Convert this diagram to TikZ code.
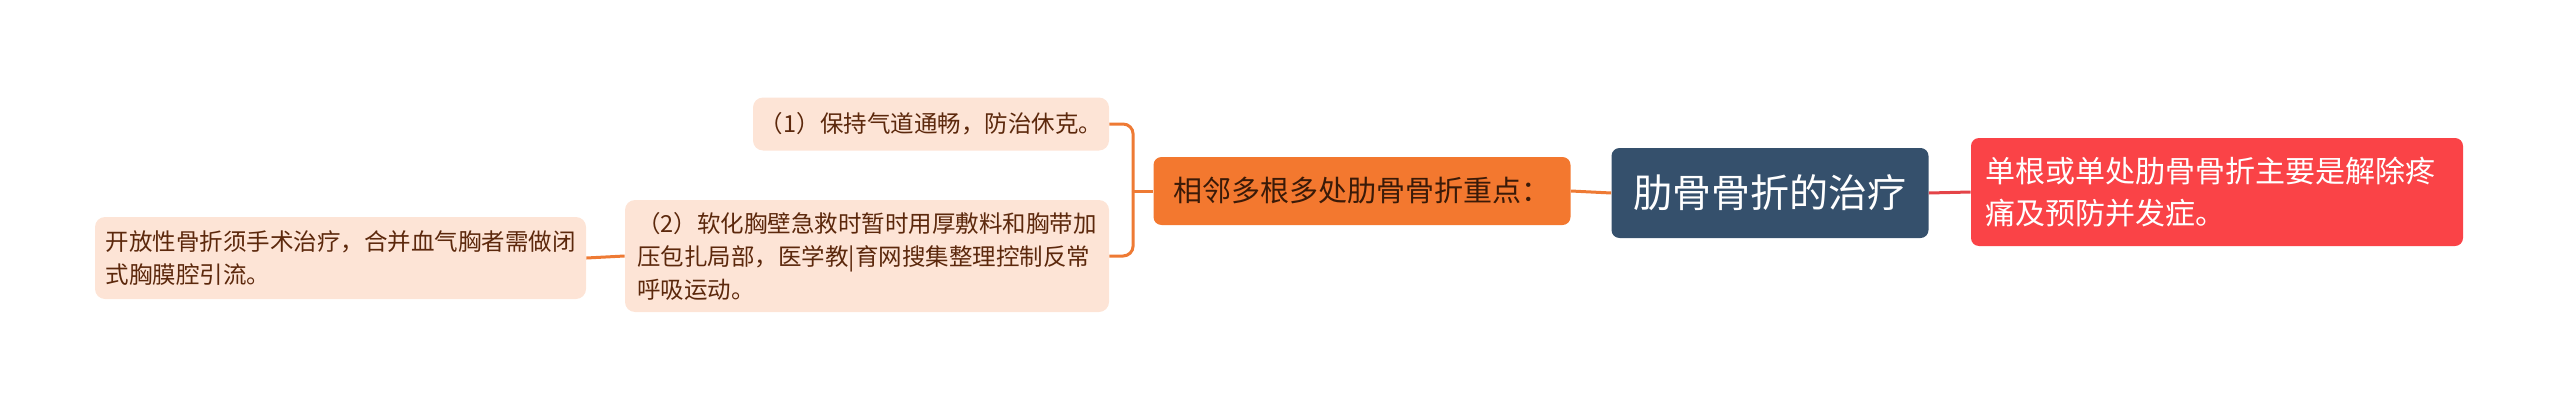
\documentclass[tikz,border=0pt]{standalone}
\usepackage{fontspec}
\newfontfamily\cjk{Noto Sans CJK SC}
\usetikzlibrary{positioning}
\definecolor{rootblue}{RGB}{53,80,108}
\definecolor{redfill}{RGB}{250,67,71}
\definecolor{orangefill}{RGB}{243,120,47}
\definecolor{peachfill}{RGB}{253,228,214}
\definecolor{peachtext}{RGB}{92,40,12}
\definecolor{orangetext}{RGB}{58,26,8}
\definecolor{orangeline}{RGB}{238,122,52}
\definecolor{redline}{RGB}{228,68,72}

\begin{document}
\begin{tikzpicture}[x=0.5pt, y=-0.5pt,
		topic/.style={rounded corners=4pt, inner sep=0pt, font=\cjk},
		leaf/.style={topic, fill=peachfill, text=peachtext, align=left, rounded corners=5pt,
			font=\cjk\fontsize{11.75pt}{16.5pt}\selectfont},
		link/.style={draw=orangeline, line width=1.5pt}]
		\useasboundingbox (0,0) rectangle (2560,412);
		\node[topic, fill=rootblue, text=white, minimum width=158.5pt, minimum height=45pt,
			font=\cjk\fontsize{19.5pt}{24pt}\selectfont] (root) at (1770,193) {肋骨骨折的治疗};
		\node[topic, fill=redfill, text=white, text width=232pt, inner sep=7pt, minimum height=54pt, align=left,
			font=\cjk\fontsize{15pt}{21pt}\selectfont] (pain) at (2217,192) {单根或单处肋骨骨折主要是解除疼\\痛及预防并发症。};
		\node[topic, fill=orangefill, text=orangetext, minimum width=208.5pt, minimum height=34pt,
			font=\cjk\fontsize{14.5pt}{18pt}\selectfont] (keys) at (1362,191) {相邻多根多处肋骨骨折重点：};
		\node[leaf, minimum width=178pt, minimum height=26.5pt, align=center] (airway) at (931,124) {（1）保持气道通畅，防治休克。};
		\node[leaf, minimum width=242pt, minimum height=56pt] (chest) at (867,256) {（2）软化胸壁急救时暂时用厚敷料和胸带加\\压包扎局部，医学教|育网搜集整理控制反常\\呼吸运动。};
		\node[leaf, minimum width=245.5pt, minimum height=41pt] (open) at (340.5,258) {开放性骨折须手术治疗，合并血气胸者需做闭\\式胸膜腔引流。};
		% connectors
		\draw[link] (root.west) -- (keys.east);
		\draw[draw=redline, line width=1.5pt] (root.east) -- (pain.west);
		\draw[link] (keys.west) -- ++(-20,0) coordinate (fork);
		\draw[link, rounded corners=5pt] (fork) |- (airway.east);
		\draw[link, rounded corners=5pt] (fork) |- (chest.east);
		\draw[link] (chest.west) -- (open.east);
	\end{tikzpicture}
\end{document}
